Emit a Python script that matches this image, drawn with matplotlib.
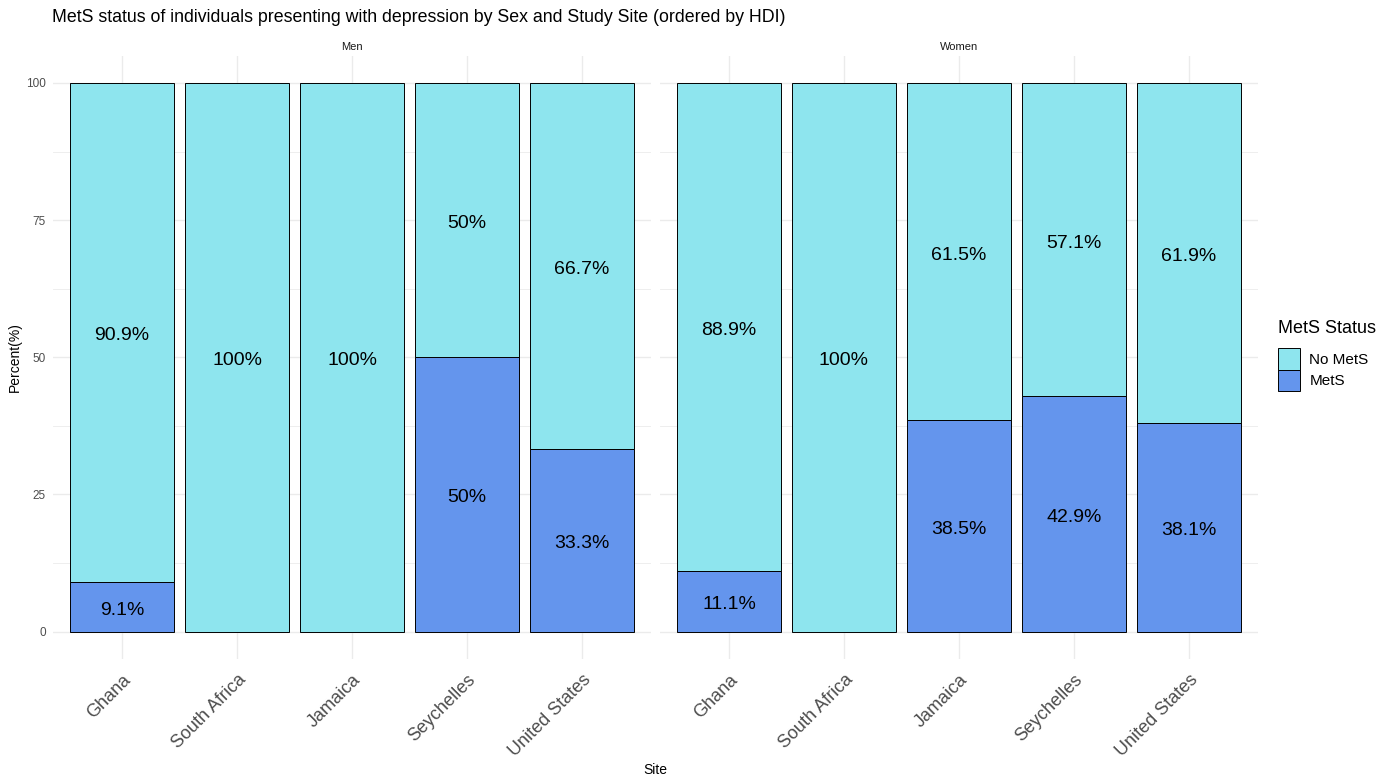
import matplotlib.pyplot as plt
from matplotlib.patches import Patch
from matplotlib.ticker import MultipleLocator

plt.rcParams['font.family'] = ['Liberation Sans', 'DejaVu Sans']

# data
sites = ['Ghana', 'South Africa', 'Jamaica', 'Seychelles', 'United States']
sexes = ['Men', 'Women']
mets_men = [9.1, 0, 0, 50, 33.3]
mets_women = [11.1, 0, 38.5, 42.9, 38.1]
no_mets_men = [90.9, 100, 100, 50, 66.7]
no_mets_women = [88.9, 100, 61.5, 57.1, 61.9]

col_no = '#8EE5EE'
col_yes = '#6495ED'
W, H = 1398, 782


def fmt(v):
    s = f"{v:.1f}"
    if s.endswith('.0'):
        s = s[:-2]
    return s + '%'


def label(ax, x, y, v):
    ax.annotate(fmt(v), (x, y), xytext=(0, -2.5), textcoords='offset points',
                ha='center', va='center', fontsize=14, color='black', zorder=4)


fig = plt.figure(figsize=(W / 100, H / 100), dpi=100)

panels = [(53, mets_men, no_mets_men), (660, mets_women, no_mets_women)]
y_top, y_bot = 55.5, 659
for i, (x0, mets, nomets) in enumerate(panels):
    ax = fig.add_axes([x0 / W, (H - y_bot) / H, 598 / W, (y_bot - y_top) / H])
    xs = list(range(1, len(sites) + 1))
    for x, m, n in zip(xs, mets, nomets):
        if m > 0:
            ax.bar(x, m, width=0.9, color=col_yes, edgecolor='black', linewidth=0.7, zorder=3)
            label(ax, x, m / 2, m)
        if n > 0:
            ax.bar(x, n, bottom=m, width=0.9, color=col_no, edgecolor='black', linewidth=0.7, zorder=3)
            label(ax, x, m + n / 2, n)
    ax.set_xlim(0.4, 5.6)
    ax.set_ylim(-5, 105)
    ax.set_xticks(xs)
    ax.set_xticklabels(sites, rotation=45, ha='right', rotation_mode='anchor',
                       fontsize=13, color='#4D4D4D')
    ax.yaxis.set_major_locator(MultipleLocator(25))
    ax.yaxis.set_minor_locator(MultipleLocator(12.5))
    ax.grid(which='major', color='#EBEBEB', linewidth=1.0, zorder=0)
    ax.grid(which='minor', axis='y', color='#EBEBEB', linewidth=0.6, zorder=0)
    ax.tick_params(which='both', length=0, pad=9)
    ax.tick_params(axis='y', labelsize=8.5, labelcolor='#4D4D4D', pad=5)
    for sp in ax.spines.values():
        sp.set_visible(False)
    if i > 0:
        ax.set_yticklabels([])
    ax.set_title(sexes[i], fontsize=8, color='#1A1A1A', pad=4)

fig.text(52 / W, 1 - 17 / H, 'MetS status of individuals presenting with depression by Sex and Study Site (ordered by HDI)',
         fontsize=12.8, ha='left', va='center')
fig.text(15 / W, 1 - 357 / H, 'Percent(%)', fontsize=10, rotation=90, ha='center', va='center')
fig.text(655 / W, 1 - 770 / H, 'Site', fontsize=10, ha='center', va='center')

handles = [Patch(facecolor=col_no, edgecolor='black', linewidth=0.7, label='No MetS'),
           Patch(facecolor=col_yes, edgecolor='black', linewidth=0.7, label='MetS')]
leg = fig.legend(handles=handles, title='MetS Status', loc='upper left',
                 bbox_to_anchor=(1278 / W, 1 - 320 / H), frameon=False,
                 fontsize=11, title_fontsize=13, handlelength=1.45, handleheight=1.8,
                 handletextpad=0.6, labelspacing=0.0, borderaxespad=0, borderpad=0)
leg._legend_box.align = 'left'
leg._legend_box.sep = 8

fig.savefig('out.png', dpi=100)
